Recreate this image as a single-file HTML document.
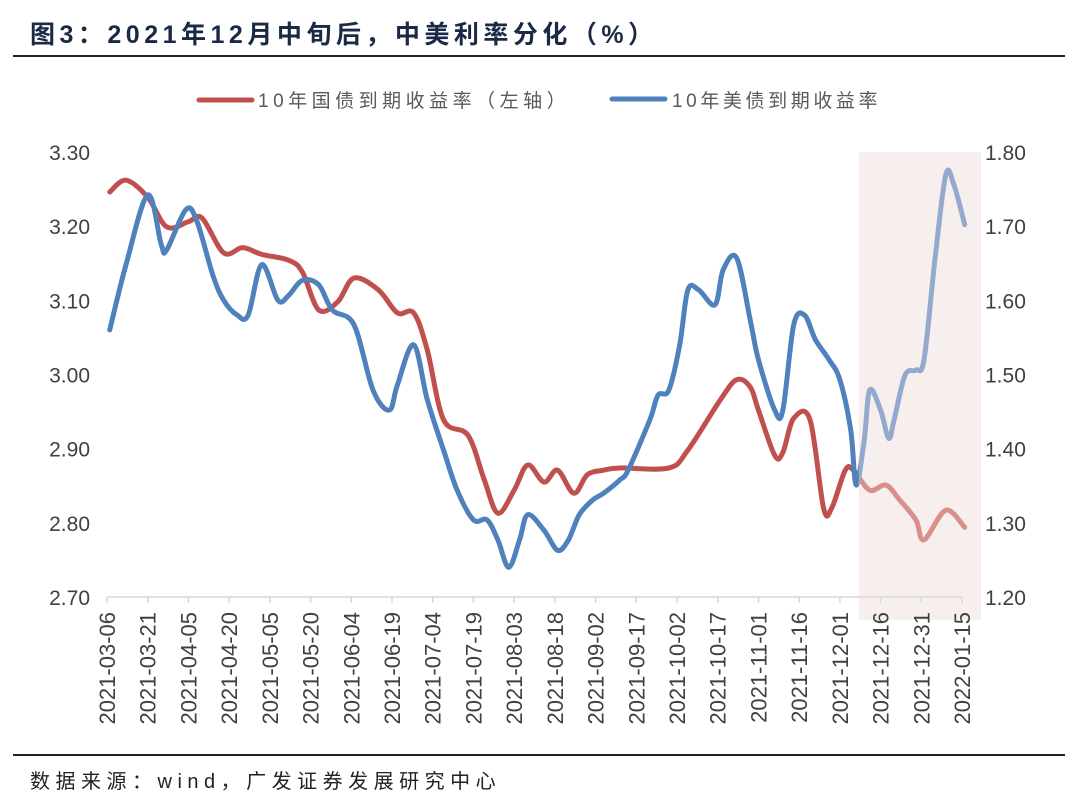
<!DOCTYPE html>
<html><head><meta charset="utf-8">
<style>
html,body{margin:0;padding:0;background:#fff;}
body{width:1080px;height:802px;overflow:hidden;position:relative;font-family:"Liberation Sans","Noto Sans CJK SC",sans-serif;}
</style></head>
<body>
<div style="position:absolute;left:30px;top:15px;font-size:25px;letter-spacing:4.5px;font-weight:bold;color:#1b2a44;font-family:'Liberation Sans','Noto Sans CJK SC',sans-serif;white-space:nowrap;">图3：2021年12月中旬后，中美利率分化（%）</div>
<div style="position:absolute;left:13px;top:55px;width:1052px;height:2px;background:#222;"></div>
<div style="position:absolute;left:13px;top:754px;width:1052px;height:2px;background:#222;"></div>
<div style="position:absolute;left:30px;top:765px;font-size:20px;letter-spacing:5.5px;color:#222;white-space:nowrap;">数据来源：wind，广发证券发展研究中心</div>
<svg id="chart" width="1080" height="802" style="position:absolute;left:0;top:0;" xmlns="http://www.w3.org/2000/svg"></svg>
<script>
const tickLabels=["2021-03-06","2021-03-21","2021-04-05","2021-04-20","2021-05-05","2021-05-20","2021-06-04","2021-06-19","2021-07-04","2021-07-19","2021-08-03","2021-08-18","2021-09-02","2021-09-17","2021-10-02","2021-10-17","2021-11-01","2021-11-16","2021-12-01","2021-12-16","2021-12-31","2022-01-15"];
const leftTicks=[2.70,2.80,2.90,3.00,3.10,3.20,3.30];
const rightTicks=[1.20,1.30,1.40,1.50,1.60,1.70,1.80];
const cnDays=[1,7,15,22,30,35,43,50,57,67,72,78,85,91,100,107,113,118,124,133,139,144,150,155,161,166,172,177,183,189,207,214,226,232,237,240,246,249,253,259,264,267,272,275,281,287,292,298,301,309,316];
const cnYield=[3.246,3.262,3.239,3.199,3.206,3.211,3.164,3.171,3.162,3.154,3.138,3.087,3.098,3.130,3.114,3.083,3.083,3.033,2.939,2.918,2.858,2.813,2.844,2.878,2.855,2.871,2.840,2.865,2.871,2.874,2.874,2.898,2.966,2.993,2.983,2.952,2.891,2.895,2.941,2.939,2.820,2.820,2.871,2.871,2.844,2.851,2.831,2.804,2.777,2.817,2.794];
const usDays=[1,7,15,20,22,29,33,39,43,48,52,57,63,67,72,78,83,91,98,104,107,113,118,124,129,135,140,144,148,152,155,161,166,170,174,179,183,189,192,200,203,207,211,214,218,224,227,232,237,240,246,249,253,257,261,266,270,274,276,279,281,285,288,290,294,298,301,305,309,312,316];
const usYield=[1.560,1.648,1.742,1.675,1.668,1.722,1.708,1.634,1.600,1.580,1.580,1.648,1.600,1.607,1.627,1.621,1.587,1.567,1.479,1.452,1.486,1.540,1.466,1.398,1.344,1.304,1.304,1.277,1.240,1.277,1.311,1.290,1.263,1.277,1.311,1.331,1.340,1.358,1.371,1.439,1.472,1.479,1.540,1.614,1.614,1.594,1.641,1.657,1.573,1.520,1.452,1.452,1.567,1.580,1.547,1.520,1.493,1.425,1.351,1.412,1.479,1.452,1.414,1.439,1.499,1.506,1.520,1.654,1.769,1.756,1.702];
const highlightStartDay=277;

const NS="http://www.w3.org/2000/svg";
const svg=document.getElementById('chart');
const X0=107,X1=962,Y0=597,Y1=152,TOTAL=315;
function xs(d){return X0+d*(X1-X0)/TOTAL;}
function yl(v){return Y0-(v-2.70)/0.60*(Y0-Y1);}
function yr(v){return Y0-(v-1.20)/0.60*(Y0-Y1);}
function mk(tag,attrs){const e=document.createElementNS(NS,tag);for(const k in attrs)e.setAttribute(k,attrs[k]);svg.appendChild(e);return e;}

const band=mk('rect',{x:xs(highlightStartDay),y:Y1,width:981-xs(highlightStartDay),height:620-Y1,fill:'#f7efee'});



const ax=mk('line',{x1:X0,y1:Y0,x2:X1,y2:Y0,stroke:'#d9d9d9','stroke-width':1.5});


tickLabels.forEach((t,i)=>{
  const x=X0+i*(X1-X0)/(tickLabels.length-1);
  const tk=mk('line',{x1:x,y1:Y0,x2:x,y2:Y0+6,stroke:'#d9d9d9','stroke-width':1.5});
  
  
  const tx=mk('text',{x:0,y:0,transform:`translate(${x+8},612) rotate(-90)`,'text-anchor':'end','font-size':22,fill:'#404040','font-family':'Liberation Sans, sans-serif'});
  tx.textContent=t;
  
  
});
leftTicks.forEach(v=>{
  const t=mk('text',{x:90,y:yl(v)+8,'text-anchor':'end','font-size':21,fill:'#404040','font-family':'Liberation Sans, sans-serif'});
  t.textContent=v.toFixed(2);
  
  
});
rightTicks.forEach(v=>{
  const t=mk('text',{x:985,y:yr(v)+8,'text-anchor':'start','font-size':21,fill:'#404040','font-family':'Liberation Sans, sans-serif'});
  t.textContent=v.toFixed(2);
  
  
});

const defs=mk('defs',{});
function clip(id,x,w){const c=document.createElementNS(NS,'clipPath');c.setAttribute('id',id);const r=document.createElementNS(NS,'rect');r.setAttribute('x',x);r.setAttribute('y',0);r.setAttribute('width',w);r.setAttribute('height',802);c.appendChild(r);defs.appendChild(c);}
const sx=xs(highlightStartDay);
clip('cl',0,sx);clip('cr',sx,1080-sx);

function smooth(pts){
  let d=`M${pts[0][0]},${pts[0][1]}`;
  for(let i=0;i<pts.length-1;i++){
    const p0=pts[Math.max(0,i-1)],p1=pts[i],p2=pts[i+1],p3=pts[Math.min(pts.length-1,i+2)];
    const k=1/6;
    const c1=[p1[0]+(p2[0]-p0[0])*k,p1[1]+(p2[1]-p0[1])*k];
    const c2=[p2[0]-(p3[0]-p1[0])*k,p2[1]-(p3[1]-p1[1])*k];
    d+=` C${c1[0]},${c1[1]} ${c2[0]},${c2[1]} ${p2[0]},${p2[1]}`;
  }
  return d;
}
const cnPts=cnDays.map((d,i)=>[xs(d),yl(cnYield[i])]);
const usPts=usDays.map((d,i)=>[xs(d),yr(usYield[i])]);
function series(pts,col,light,name){
  const a=mk('path',{d:smooth(pts),fill:'none',stroke:col,'stroke-width':5,'stroke-linecap':'round','stroke-linejoin':'round','clip-path':'url(#cl)'});
  
  
  const b=mk('path',{d:smooth(pts),fill:'none',stroke:light,'stroke-width':5,'stroke-linecap':'round','stroke-linejoin':'round','clip-path':'url(#cr)'});
  
  
}
series(cnPts,'#c0504d','#d9908d','cn-10y-line');
series(usPts,'#4f81bd','#93aace','us-10y-line');

const l1=mk('line',{x1:199,y1:100,x2:252,y2:100,stroke:'#c0504d','stroke-width':5,'stroke-linecap':'round'});


const t1=mk('text',{x:258,y:107,'font-size':19,'letter-spacing':4.5,fill:'#595959','font-family':'Liberation Sans, Noto Sans CJK SC, sans-serif'});
t1.textContent='10年国债到期收益率（左轴）';


const l2=mk('line',{x1:612,y1:99,x2:665,y2:99,stroke:'#4f81bd','stroke-width':5,'stroke-linecap':'round'});


const t2=mk('text',{x:672,y:107,'font-size':19,'letter-spacing':3.6,fill:'#595959','font-family':'Liberation Sans, Noto Sans CJK SC, sans-serif'});
t2.textContent='10年美债到期收益率';


</script>
</body></html>
